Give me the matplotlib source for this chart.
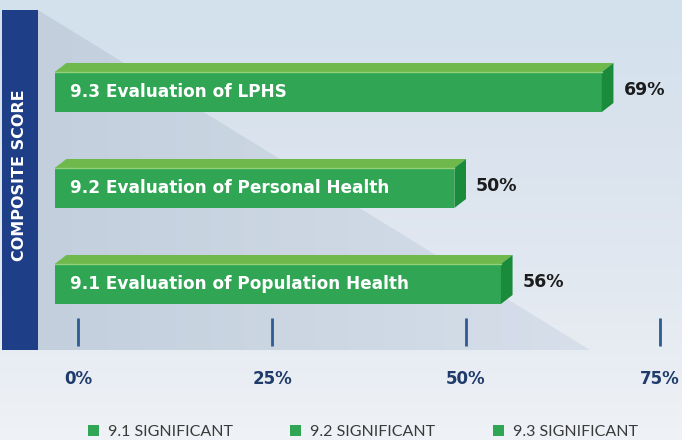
import numpy as np
import matplotlib
matplotlib.use("Agg")
import matplotlib.pyplot as plt
from matplotlib.colors import LinearSegmentedColormap
from matplotlib.patches import Polygon, Rectangle, Patch

# data
categories = ["9.1 Evaluation of Population Health",
              "9.2 Evaluation of Personal Health",
              "9.3 Evaluation of LPHS"]
values = [56, 50, 69]
value_labels = ["56%", "50%", "69%"]
tick_values = [0, 25, 50, 75]
tick_labels = ["0%", "25%", "50%", "75%"]
legend_labels = ["9.1 SIGNIFICANT", "9.2 SIGNIFICANT", "9.3 SIGNIFICANT"]

BOLD = ["DejaVu Sans"]
LIGHT = ["Lato", "DejaVu Sans"]
GREEN = "#30a554"
TOP = "#6fb84c"
SIDE = "#1a8a3b"
NAVY = "#1f3e88"

# pixel layout helpers (x axis in percent, y axis in pixels)
PX0, PX_PER = 78.0, 7.76
def px(x):
    return (x - PX0) / PX_PER

fig = plt.figure(figsize=(6.82, 4.40), dpi=100)
ax = fig.add_axes([0, 0, 1, 1])
ax.set_xlim(px(0), px(682))
ax.set_ylim(440, 0)
ax.axis("off")

# background: vertical gradient, light blue on top to near white at bottom
vgrad = np.linspace(0, 1, 256).reshape(-1, 1)
ax.imshow(vgrad, extent=(px(0), px(682), 440, 0), aspect="auto",
          cmap=LinearSegmentedColormap.from_list(
              "bg", ["#d2e1ec", "#dae3ee", "#e3e9f1", "#eff2f6"]), zorder=0)

# shaded triangle
hgrad = np.linspace(0, 1, 256).reshape(1, -1)
tri = Polygon([(px(38), 10), (px(38), 350), (px(590), 350)], closed=True,
              facecolor="none", edgecolor="none")
ax.add_patch(tri)
grad = ax.imshow(hgrad, extent=(px(38), px(590), 350, 10), aspect="auto",
                 cmap=LinearSegmentedColormap.from_list(
                     "tri", ["#c3cfdd", "#d6dfea"]), zorder=1)
grad.set_clip_path(tri)

# vertical band
ax.add_patch(Rectangle((px(2), 10), px(38) - px(2), 340, facecolor=NAVY,
                       edgecolor="none", zorder=2))
ax.text(px(20), 175, "COMPOSITE SCORE", rotation=90, color="white",
        fontsize=11.5, fontweight="bold", family=BOLD, ha="center", va="center",
        zorder=3)

# 3D bars
y_front = [264, 168, 72]   # top of front face (px)
height = 40
dx, dy = 1.5, 9            # depth: percent, px
x_start = -3.0
for cat, v, lab, yt in zip(categories, values, value_labels, y_front):
    xe = v - dx
    front = Polygon([(x_start, yt), (xe, yt), (xe, yt + height), (x_start, yt + height)],
                    closed=True, facecolor=GREEN, edgecolor="none", zorder=4)
    top = Polygon([(x_start, yt), (x_start + dx, yt - dy), (v, yt - dy), (xe, yt)],
                  closed=True, facecolor=TOP, edgecolor="none", zorder=4)
    side = Polygon([(xe, yt), (v, yt - dy), (v, yt + height - dy), (xe, yt + height)],
                   closed=True, facecolor=SIDE, edgecolor="none", zorder=4)
    for p in (front, top, side):
        ax.add_patch(p)
    ax.plot([x_start, xe], [yt + 0.5, yt + 0.5], color="#8fd07a", lw=1, zorder=4)
    ax.text(x_start + 2, yt + height / 2, cat, color="white", fontsize=12.2,
            fontweight="bold", family=BOLD, ha="left", va="center", zorder=5)
    ax.text(v + 1.3, yt + height / 2 - 2, lab, color="#1c1c1c", fontsize=12.5,
            fontweight="bold", family=BOLD, ha="left", va="center", zorder=5)

# axis ticks
for t, tl in zip(tick_values, tick_labels):
    ax.plot([t, t], [318, 346], color="#2d5b92", lw=2, zorder=5,
            solid_capstyle="butt")
    ax.text(t, 379, tl, color="#1f3b6c", fontsize=12, fontweight="bold",
            family=BOLD, ha="center", va="center", zorder=5)

# legend
handles = [Patch(facecolor=GREEN, edgecolor="none") for _ in legend_labels]
leg = ax.legend(handles, legend_labels, ncol=3, loc="center",
                bbox_to_anchor=(0.532, 1 - 432 / 440), frameon=False,
                prop={"family": LIGHT, "size": 11.5}, handlelength=0.7,
                handleheight=0.7, handletextpad=0.55, columnspacing=3.6)
for txt in leg.get_texts():
    txt.set_color("#3a3a3a")

fig.savefig("out.png", dpi=100)
